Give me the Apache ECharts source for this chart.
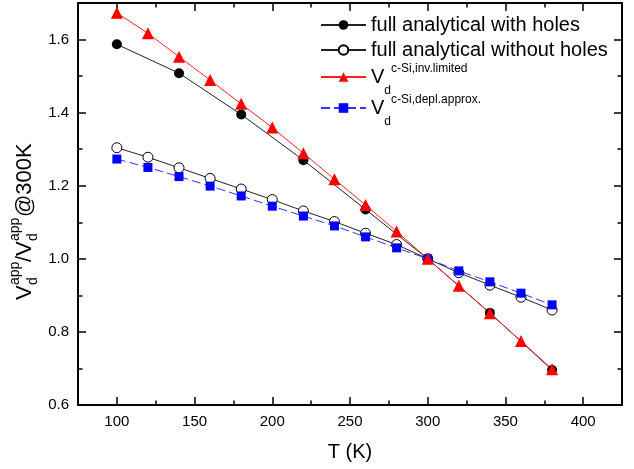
<!DOCTYPE html>
<html><head><meta charset="utf-8">
<script src="https://cdn.jsdelivr.net/npm/echarts@6/dist/echarts.min.js"></script>
<style>html,body{margin:0;padding:0;background:#fff}#c{width:634px;height:469px}</style>
</head><body><div id="c"></div>
<script>
// ---- data ----
const tWithHoles = [100, 140, 180, 220, 260, 300, 340, 380];
const vWithHoles = [1.587, 1.508, 1.395, 1.270, 1.135, 1.000, 0.852, 0.696];
const tEvery20 = [100, 120, 140, 160, 180, 200, 220, 240, 260, 280, 300, 320, 340, 360, 380];
const vWithoutHoles = [1.304, 1.278, 1.249, 1.220, 1.191, 1.162, 1.131, 1.102, 1.070, 1.039, 1.000, 0.962, 0.928, 0.895, 0.860];
const vInvLimited = [1.673, 1.617, 1.553, 1.489, 1.424, 1.359, 1.289, 1.218, 1.147, 1.075, 1.000, 0.926, 0.851, 0.775, 0.698];
const vDeplApprox = [1.273, 1.250, 1.225, 1.199, 1.172, 1.144, 1.117, 1.090, 1.060, 1.030, 1.000, 0.967, 0.937, 0.906, 0.874];
const xMajorTicks = [100, 150, 200, 250, 300, 350, 400];
const xMinorTicks = [125, 175, 225, 275, 325, 375];
const yMajorTicks = [0.6, 0.8, 1.0, 1.2, 1.4, 1.6];
const yMinorTicks = [0.7, 0.9, 1.1, 1.3, 1.5];
const nameHoles = 'full analytical with holes';
const nameNoHoles = 'full analytical without holes';
const nameInv = 'V_d c-Si,inv.limited';
const nameDepl = 'V_d c-Si,depl.approx.';
const supInv = 'c-Si,inv.limited';
const supDepl = 'c-Si,depl.approx.';
const xTitle = 'T (K)';

const FF = '"Liberation Sans", Arial, sans-serif';
const pairs = (xs, ys) => xs.map((x, i) => [x, ys[i]]);

function xAx(position, ticks, len, showLine, showLabel, extra) {
  return Object.assign({
    type: 'value', position: position, min: 75, max: 425,
    axisLine: { show: showLine, onZero: false, lineStyle: { color: '#000', width: 2 } },
    axisTick: { show: true, inside: true, length: len, customValues: ticks, lineStyle: { color: '#000', width: 1.5 } },
    axisLabel: showLabel ? { show: true, customValues: ticks, fontSize: 15, color: '#000', fontFamily: FF, margin: 9 } : { show: false },
    splitLine: { show: false }
  }, extra || {});
}
function yAx(position, ticks, len, showLine, showLabel) {
  return {
    type: 'value', position: position, min: 0.6, max: 1.7,
    axisLine: { show: showLine, onZero: false, lineStyle: { color: '#000', width: 2 } },
    axisTick: { show: true, inside: true, length: len, customValues: ticks, lineStyle: { color: '#000', width: 1.5 } },
    axisLabel: showLabel ? { show: true, customValues: ticks, fontSize: 15, color: '#000', fontFamily: FF, margin: 9,
      formatter: v => v.toFixed(1) } : { show: false },
    splitLine: { show: false }
  };
}

const legendRich = {
  V: { fontSize: 20, lineHeight: 20, fontFamily: FF, color: '#000' },
  sub: { fontSize: 12, lineHeight: 12, fontFamily: FF, color: '#000', padding: [28, 0, 0, 0] },
  sup: { fontSize: 12, lineHeight: 12, fontFamily: FF, color: '#000', padding: [0, 0, 16, 0] }
};
function legendFmt(name) {
  if (name === nameInv) return '{V|V}{sub|d}{sup|' + supInv + '}';
  if (name === nameDepl) return '{V|V}{sub|d}{sup|' + supDepl + '}';
  return name;
}
const legendBase = { orient: 'vertical', left: 320, itemWidth: 45, itemHeight: 12, itemGap: 5, padding: 0,
  selectedMode: false, formatter: legendFmt,
  textStyle: { fontSize: 20, color: '#000', fontFamily: FF, rich: legendRich } };

const chart = echarts.init(document.getElementById('c'), null, { renderer: 'canvas' });
const yt = (t, x, y, size) => ({ type: 'text', x: x, y: y,
  style: { text: t, fontSize: size, fontFamily: FF, fill: '#000', align: 'left', verticalAlign: 'middle' } });

chart.setOption({
  animation: false,
  backgroundColor: '#fff',
  grid: { left: 78, right: 12, top: 3, bottom: 64 },
  xAxis: [
    xAx('bottom', xMajorTicks, 8, true, true, { name: xTitle, nameLocation: 'middle', nameGap: 37,
      nameTextStyle: { fontSize: 20, color: '#000', fontFamily: FF } }),
    xAx('bottom', xMinorTicks, 4.5, false, false),
    xAx('top', xMajorTicks, 8, true, false),
    xAx('top', xMinorTicks, 4.5, false, false)
  ],
  yAxis: [
    yAx('left', yMajorTicks, 8, true, true),
    yAx('left', yMinorTicks, 4.5, false, false),
    yAx('right', yMajorTicks, 8, true, false),
    yAx('right', yMinorTicks, 4.5, false, false)
  ],
  legend: [
    Object.assign({}, legendBase, { top: 15, data: [nameHoles, nameNoHoles] }),
    Object.assign({}, legendBase, { top: 57, data: [nameInv] }),
    Object.assign({}, legendBase, { top: 88, data: [nameDepl] })
  ],
  graphic: [{
    type: 'group', x: 33, y: 300, rotation: Math.PI / 2,
    children: [
      yt('V', 0, -8, 22),
      yt('d', 15, 0, 14),
      yt('app', 15, -18, 14),
      yt('/V', 38, -8, 22),
      yt('d', 59, 0, 14),
      yt('app', 59, -18, 14),
      yt('@300K', 83, -8, 22)
    ]
  }],
  series: [
    { name: nameHoles, type: 'line', data: pairs(tWithHoles, vWithHoles), symbol: 'circle', symbolSize: 10,
      itemStyle: { color: '#000' }, lineStyle: { color: '#222', width: 1 } },
    { name: nameNoHoles, type: 'line', data: pairs(tEvery20, vWithoutHoles), symbol: 'circle', symbolSize: 10,
      itemStyle: { color: '#fff', borderColor: '#000', borderWidth: 1 }, lineStyle: { color: '#222', width: 1 } },
    { name: nameDepl, type: 'line', data: pairs(tEvery20, vDeplApprox), symbol: 'rect', symbolSize: 9,
      itemStyle: { color: '#0000ff' }, lineStyle: { color: '#3333ff', width: 1, type: [9, 4] } },
    { name: nameInv, type: 'line', data: pairs(tEvery20, vInvLimited), symbol: 'triangle', symbolSize: 12,
      itemStyle: { color: '#ff0000' }, lineStyle: { color: '#ff2020', width: 1 } }
  ]
});
</script>
</body></html>
